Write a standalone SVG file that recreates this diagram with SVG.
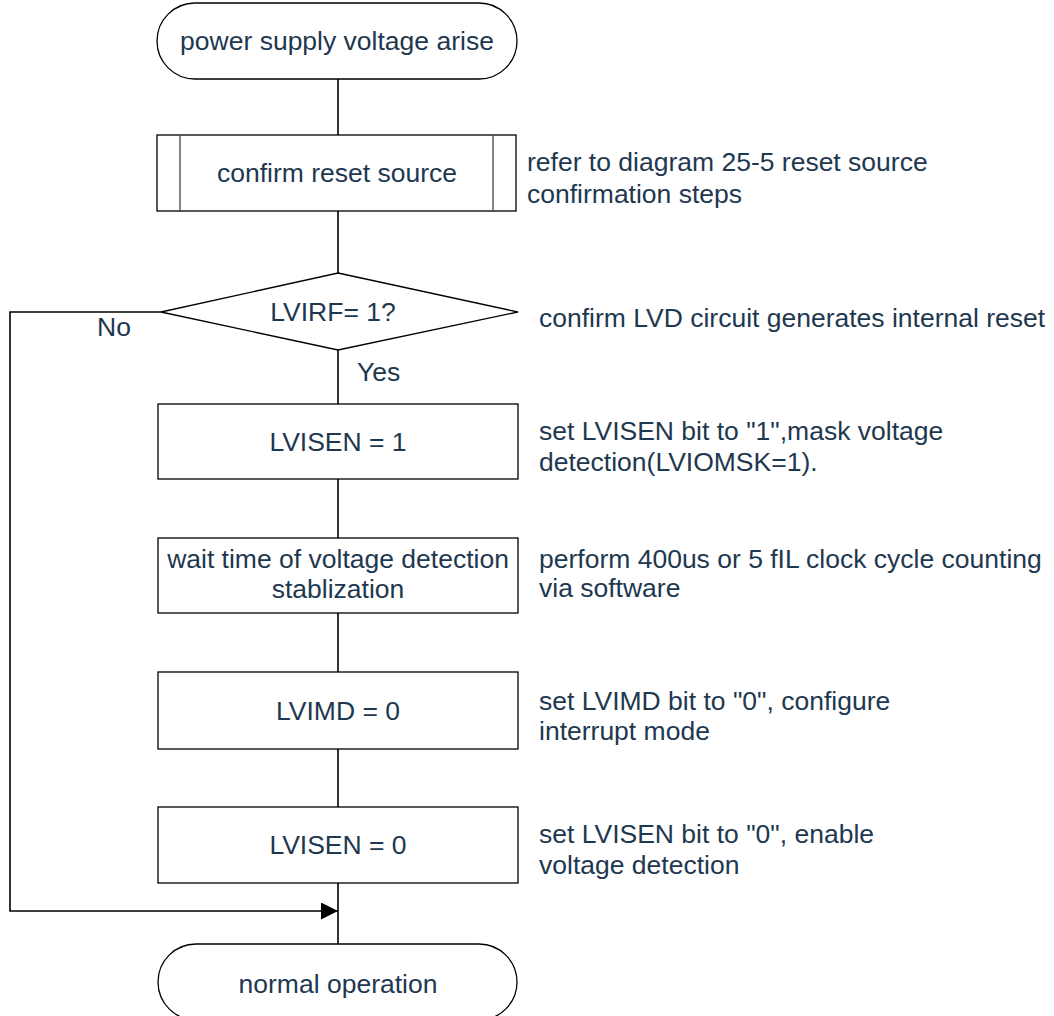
<svg xmlns="http://www.w3.org/2000/svg" width="1054" height="1016" viewBox="0 0 1054 1016">
<style>
.shape{fill:#fff;stroke:#000;stroke-width:1.3}
.inner{stroke:#444;stroke-width:1.3;fill:none}
.conn{fill:none;stroke:#000;stroke-width:1.6}
text{font-family:"Liberation Sans",Arial,sans-serif;font-size:26.5px;fill:#1e3850}
.c{text-anchor:middle}
</style>
<defs>
<marker id="arr" markerWidth="17" markerHeight="17" refX="17" refY="8.5" orient="auto" markerUnits="userSpaceOnUse">
<path d="M0,0 L17,8.5 L0,17 Z" fill="#000"/>
</marker>
</defs>
<rect width="1054" height="1016" fill="#fff"/>
<g id="connectors">
<line class="conn" x1="338" y1="79" x2="338" y2="135"/>
<line class="conn" x1="338" y1="211" x2="338" y2="273"/>
<line class="conn" x1="338" y1="350" x2="338" y2="404"/>
<line class="conn" x1="338" y1="479" x2="338" y2="538"/>
<line class="conn" x1="338" y1="613" x2="338" y2="672"/>
<line class="conn" x1="338" y1="749" x2="338" y2="807"/>
<line class="conn" x1="338" y1="883" x2="338" y2="944"/>
<polyline class="conn" points="161,312 10,312 10,911 338,911" marker-end="url(#arr)"/>
<text x="97" y="336">No</text>
<text x="357" y="381">Yes</text>
</g>
<g id="start">
<rect class="shape" x="157" y="3" width="360" height="76" rx="38" ry="38"/>
<text class="c" x="337" y="50">power supply voltage arise</text>
</g>
<g id="confirm">
<rect class="shape" x="157" y="135" width="359" height="76"/>
<line class="inner" x1="180" y1="135" x2="180" y2="211"/>
<line class="inner" x1="493" y1="135" x2="493" y2="211"/>
<text class="c" x="337" y="182">confirm reset source</text>
<text x="527" y="171">refer to diagram 25-5 reset source</text>
<text x="527" y="203">confirmation steps</text>
</g>
<g id="decision">
<polygon class="shape" points="338,273 518,312 338,350 161,312"/>
<text class="c" x="333" y="321">LVIRF= 1?</text>
<text x="539" y="327">confirm LVD circuit generates internal reset</text>
</g>
<g id="lvisen1">
<rect class="shape" x="158" y="404" width="360" height="75"/>
<text class="c" x="338" y="451">LVISEN = 1</text>
<text x="539" y="440">set LVISEN bit to "1",mask voltage</text>
<text x="539" y="471">detection(LVIOMSK=1).</text>
</g>
<g id="wait">
<rect class="shape" x="158" y="538" width="360" height="75"/>
<text class="c" x="338" y="568">wait time of voltage detection</text>
<text class="c" x="338" y="598">stablization</text>
<text x="539" y="568">perform 400us or 5 fIL clock cycle counting</text>
<text x="539" y="597">via software</text>
</g>
<g id="lvimd">
<rect class="shape" x="158" y="672" width="360" height="77"/>
<text class="c" x="338" y="720">LVIMD = 0</text>
<text x="539" y="710">set LVIMD bit to "0", configure</text>
<text x="539" y="740">interrupt mode</text>
</g>
<g id="lvisen0">
<rect class="shape" x="158" y="807" width="360" height="76"/>
<text class="c" x="338" y="854">LVISEN = 0</text>
<text x="539" y="843">set LVISEN bit to "0", enable</text>
<text x="539" y="874">voltage detection</text>
</g>
<g id="end">
<rect class="shape" x="158" y="944" width="359" height="76" rx="38" ry="38"/>
<text class="c" x="338" y="993">normal operation</text>
</g>
</svg>
